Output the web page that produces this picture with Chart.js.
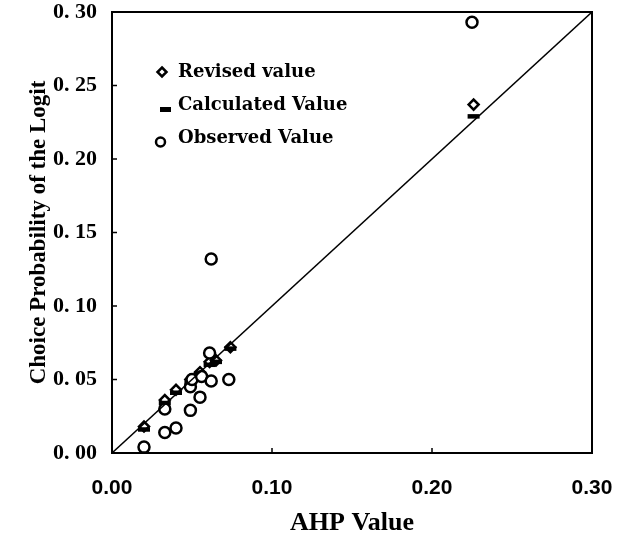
<!DOCTYPE html>
<html>
<head>
<meta charset="utf-8">
<script src="https://cdn.jsdelivr.net/npm/chart.js@4"></script>
<style>
  html, body { margin: 0; padding: 0; background: #fff; }
  #wrap { width: 623px; height: 543px; }
</style>
</head>
<body>
<div id="wrap"><canvas id="chart" width="623" height="543"></canvas></div>
<script>
// values
const observedX = [0.020, 0.033, 0.040, 0.049, 0.055, 0.033, 0.049, 0.050, 0.056, 0.062, 0.073, 0.061, 0.062, 0.225];
const observedY = [0.004, 0.014, 0.017, 0.029, 0.038, 0.030, 0.045, 0.050, 0.052, 0.049, 0.050, 0.068, 0.132, 0.293];
const revisedX = [0.020, 0.033, 0.040, 0.049, 0.055, 0.061, 0.065, 0.074, 0.226];
const revisedY = [0.018, 0.036, 0.043, 0.050, 0.055, 0.062, 0.063, 0.072, 0.237];
const calculatedY = [0.016, 0.034, 0.041, 0.048, 0.054, 0.060, 0.062, 0.071, 0.229];
const diagonalX = [0, 0.30];
const xTicks = [0, 0.10, 0.20, 0.30];
const yTicks = [0, 0.05, 0.10, 0.15, 0.20, 0.25, 0.30];
const legendLabels = ['Revised value', 'Calculated Value', 'Observed Value'];

const toPoints = (xs, ys) => xs.map((x, i) => ({ x: x, y: ys[i] }));

// box around the plot, inward ticks and the legend inside the plot
const framePlugin = {
  id: 'frame',
  afterDraw(chart) {
    const ctx = chart.ctx;
    const a = chart.chartArea;
    const xs = chart.scales.x;
    const ys = chart.scales.y;
    ctx.save();
    ctx.strokeStyle = '#000';
    ctx.lineWidth = 2;
    ctx.strokeRect(a.left, a.top, a.right - a.left, a.bottom - a.top);

    ctx.lineWidth = 1.5;
    ctx.beginPath();
    xTicks.slice(1, -1).forEach(v => {
      const px = xs.getPixelForValue(v);
      ctx.moveTo(px, a.bottom);
      ctx.lineTo(px, a.bottom - 5);
    });
    yTicks.slice(1, -1).forEach(v => {
      const py = ys.getPixelForValue(v);
      ctx.moveTo(a.left, py);
      ctx.lineTo(a.left + 5, py);
    });
    ctx.stroke();

    // legend
    const lx = a.left + 50;
    const rows = [a.top + 60, a.top + 93, a.top + 126];
    ctx.fillStyle = '#000';
    ctx.font = 'bold 18px "DejaVu Serif"';
    ctx.textBaseline = 'middle';
    ctx.textAlign = 'left';
    legendLabels.forEach((t, i) => ctx.fillText(t, lx + 16, rows[i]));

    ctx.lineWidth = 2.5;
    ctx.beginPath();
    ctx.moveTo(lx, rows[0] - 4.5);
    ctx.lineTo(lx + 4.5, rows[0]);
    ctx.lineTo(lx, rows[0] + 4.5);
    ctx.lineTo(lx - 4.5, rows[0]);
    ctx.closePath();
    ctx.stroke();

    ctx.fillRect(lx - 2, rows[1] + 2, 11, 5);

    ctx.beginPath();
    ctx.arc(lx - 1.5, rows[2] + 4, 4.5, 0, Math.PI * 2);
    ctx.stroke();
    ctx.restore();
  }
};

new Chart(document.getElementById('chart'), {
  type: 'scatter',
  data: {
    datasets: [{
      type: 'line',
      label: 'y = x',
      data: toPoints(diagonalX, diagonalX),
      borderColor: '#000',
      borderWidth: 1.5,
      pointRadius: 0,
      fill: false
    }, {
      label: 'Observed Value',
      data: toPoints(observedX, observedY),
      pointStyle: 'circle',
      pointRadius: 5.5,
      borderWidth: 2.5,
      borderColor: '#000',
      backgroundColor: '#fff'
    }, {
      label: 'Calculated Value',
      data: toPoints(revisedX, calculatedY),
      pointStyle: 'line',
      pointRadius: 6,
      borderWidth: 4.5,
      borderColor: '#000',
      backgroundColor: '#000'
    }, {
      label: 'Revised value',
      data: toPoints(revisedX, revisedY),
      pointStyle: 'rectRot',
      pointRadius: 5,
      borderWidth: 2.5,
      borderColor: '#000',
      backgroundColor: '#fff'
    }]
  },
  options: {
    responsive: false,
    animation: false,
    layout: { autoPadding: false, padding: { top: 12, right: 31, left: 0, bottom: 0 } },
    plugins: {
      legend: { display: false },
      tooltip: { enabled: false }
    },
    scales: {
      x: {
        type: 'linear',
        min: 0,
        max: 0.30,
        afterBuildTicks: s => { s.ticks = xTicks.map(v => ({ value: v })); },
        afterFit: s => { s.height = 90; s.paddingLeft = 0; s.paddingRight = 0; },
        grid: { display: false, drawTicks: false },
        border: { display: false },
        ticks: {
          color: '#000',
          padding: 23,
          font: { family: '"Liberation Sans"', size: 21, weight: 'bold' },
          callback: v => v.toFixed(2)
        },
        title: {
          display: true,
          text: 'AHP Value',
          color: '#000',
          padding: { top: 14 },
          font: { family: '"Liberation Serif"', size: 26, weight: 'bold' }
        }
      },
      y: {
        type: 'linear',
        min: 0,
        max: 0.30,
        afterBuildTicks: s => { s.ticks = yTicks.map(v => ({ value: v })); },
        afterFit: s => { s.width = 112; s.paddingTop = 0; s.paddingBottom = 0; },
        grid: { display: false, drawTicks: false },
        border: { display: false },
        ticks: {
          color: '#000',
          padding: 15,
          font: { family: '"Liberation Serif"', size: 22, weight: 'bold' },
          callback: v => v.toFixed(2).replace('.', '. ')
        },
        title: {
          display: true,
          text: 'Choice Probability of the Logit',
          color: '#000',
          padding: { top: 25, bottom: 0 },
          font: { family: '"Liberation Serif"', size: 23, weight: 'bold' }
        }
      }
    }
  },
  plugins: [framePlugin]
});
</script>
</body>
</html>
